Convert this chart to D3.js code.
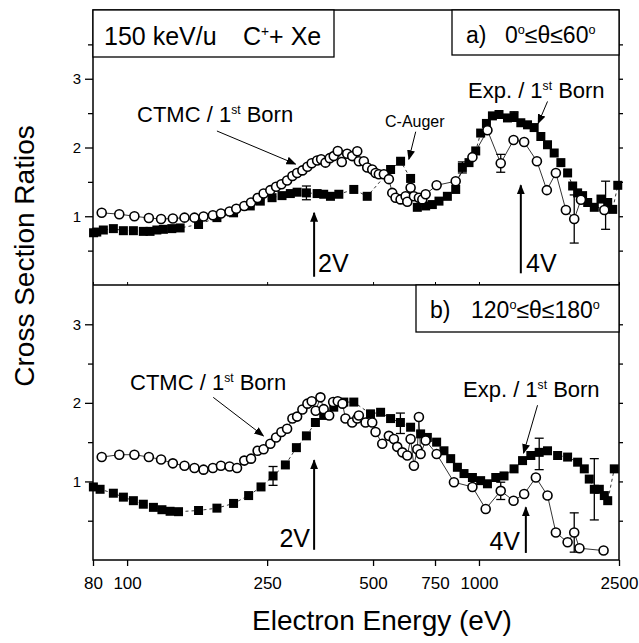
<!DOCTYPE html>
<html>
<head>
<meta charset="utf-8">
<script src="https://cdn.jsdelivr.net/npm/d3@7"></script>
<style>
  body { margin: 0; background: #fff; }
  text { font-family: "Liberation Sans", Arial, Helvetica, sans-serif; fill: #000; }
</style>
</head>
<body>
<div id="chart"></div>
<script>
const width = 639
const height = 643
const plot = { left: 93, right: 619, top: 10, mid: 285, bottom: 560 }

// x ticks (eV) and y ticks
const xTicks = [80, 100, 250, 500, 750, 1000, 2500]
const yMajor = [1, 2, 3]
const yMinorA = [0.5, 1.5, 2.5, 3.5]
const yMinorB = [0.5, 1.5, 2.5]

// panel a) 0 <= theta <= 60 : [energy eV, ratio]
const aExp = [[80.3,0.76],[82,0.77],[85.6,0.80],[91.4,0.82],[97.6,0.79],[104.2,0.79],[111.2,0.78],[116.2,0.78],
  [121.5,0.80],[126.8,0.81],[134,0.82],[141.5,0.83],[159.6,0.88],[180,0.98],[200.7,1.05],[223.9,1.15],
  [239.1,1.22],[258.2,1.27],[275.6,1.30],[291,1.33],[304.2,1.35],[323.3,1.34],[346.8,1.33],[362,1.32],
  [378.4,1.29],[399.7,1.32],[440.8,1.39],[481.3,1.29],[560.8,1.68],[598.7,1.80],[639.3,1.55],[668,1.13],
  [705.4,1.15],[737,1.17],[769.7,1.22],[813.2,1.29],[858.7,1.39],[897,1.71],[936.8,1.78],[979,1.95],
  [1011,2.21],[1050,2.35],[1092,2.46],[1140,2.48],[1205,2.43],[1258,2.45],[1315,2.36],[1374,2.33],[1435,2.29],
  [1499,2.16],[1566,2.04],[1636,1.92],[1709,1.78],[1786,1.63],[1846,1.44],[1907,1.34],[1970,1.30],[2037,1.20],
  [2127,1.13],[2222,1.25],[2322,1.20],[2399,1.10],[2480,1.45]]
const aCtmc = [[84.7,1.05],[95,1.03],[104.9,1.0],[115.3,0.975],[124.9,0.96],[134.9,0.967],[145.6,0.98],[155.4,0.98],
  [164.9,0.996],[175.3,1.014],[184.8,1.04],[195.5,1.07],[204.3,1.11],[215.3,1.15],[225,1.2],[234.9,1.265],
  [244.3,1.33],[255.3,1.38],[265.1,1.43],[274.5,1.465],[284.9,1.52],[295,1.585],[304.2,1.63],[314.9,1.667],
  [325.4,1.72],[334.7,1.77],[346.8,1.81],[356,1.83],[366.2,1.78],[376.6,1.845],[386.6,1.875],[396.9,1.95],
  [407.5,1.79],[422.1,1.91],[436.2,1.875],[450.9,1.945],[455.6,1.80],[470.7,1.80],[481.3,1.71],[497.3,1.68],
  [508.3,1.63],[519.4,1.61],[536.7,1.61],[554.5,1.54],[567,1.34],[579.4,1.27],[598.7,1.245],[618.7,1.29],
  [625.6,1.21],[639.3,1.415],[653.3,1.29],[675,1.27],[690.2,1.245],[705.4,1.32],[758,1.45],[858.7,1.51],
  [958,1.86],[1057,2.25],[1153,1.77],[1254,2.11],[1344,2.08],[1461,1.80],[1559,1.38],[1654,1.63],
  [1766,1.09],[1865,0.96],[1949,1.24],[2271,1.09]]
// error bars: [energy, ratio, half width]
const aExpErr = [[323.3,1.34,0.10],[897,1.71,0.08],[1258,2.45,0.07],[2290,1.16,0.35]]
const aCtmcErr = [[1153,1.77,0.13],[1865,0.96,0.35]]

// panel b) 120 <= theta <= 180
const bExp = [[80.2,0.93],[83.8,0.90],[91.4,0.85],[97.6,0.80],[104.2,0.755],[111.2,0.71],[118.8,0.67],[125.6,0.64],
  [132.5,0.62],[140,0.615],[159.6,0.63],[180,0.66],[200.7,0.72],[221.5,0.82],[240.2,0.93],[259.9,1.07],
  [281.7,1.21],[302.8,1.43],[323.3,1.58],[342.9,1.75],[362,1.84],[386.6,1.945],[412.9,2.01],[440.8,2.01],
  [491.8,1.86],[525.3,1.88],[560.8,1.80],[598,1.75],[639.3,1.69],[682.6,1.605],[713.3,1.56],[758,1.50],
  [795.2,1.39],[831,1.29],[868.3,1.18],[906.7,1.10],[958,1.05],[1011,1.01],[1057,0.97],[1116,1.05],
  [1178,1.07],[1258,1.16],[1330,1.265],[1404,1.33],[1483,1.37],[1566,1.39],[1673,1.33],[1786,1.31],
  [1907,1.245],[1992,1.16],[2058,1.03],[2127,0.90],[2198,0.90],[2271,0.82],[2322,0.755],[2424,1.16]]
const bCtmc = [[84.7,1.31],[95,1.34],[104.9,1.34],[115.3,1.31],[124.9,1.28],[134.9,1.23],[145.6,1.20],[155.4,1.17],
  [164.9,1.15],[175.3,1.17],[184.8,1.20],[195.5,1.19],[205.3,1.17],[215.3,1.265],[225,1.29],[234.9,1.39],
  [244.3,1.41],[255.3,1.48],[265.1,1.56],[274.5,1.63],[284.9,1.67],[295,1.80],[304.2,1.825],[314.9,1.915],
  [325.4,1.99],[334.7,2.02],[343.6,1.90],[354.4,2.07],[362,1.92],[375.2,1.84],[385.1,2.01],[396.9,2.02],
  [409.4,1.99],[417.4,1.80],[436.2,1.75],[450.9,1.80],[455.6,1.84],[476,1.75],[497.3,1.75],[508.3,1.63],
  [531,1.48],[554.5,1.58],[573,1.54],[585.7,1.44],[605.5,1.37],[625.6,1.33],[639.3,1.54],[653.3,1.20],
  [668,1.41],[675,1.82],[682.6,1.35],[705.4,1.52],[758,1.35],[849,0.99],[958,0.93],[1045,0.65],
  [1153,0.88],[1254,0.755],[1344,0.84],[1451,1.05],[1566,0.82],[1654,0.35],[1786,0.225],[1865,0.35],
  [1930,0.15],[2260,0.12]]
const bExpErr = [[259.9,1.07,0.12],[598,1.74,0.13],[1483,1.35,0.20],[2127,0.90,0.39]]
const bCtmcErr = [[1153,0.88,0.11],[1865,0.35,0.25]]

const svg = d3.select('#chart').append('svg').attr('width', width).attr('height', height)

// arrow head
svg.append('defs').append('marker')
  .attr('id', 'head').attr('viewBox', '0 0 10 8').attr('refX', 9).attr('refY', 4)
  .attr('markerUnits', 'userSpaceOnUse').attr('markerWidth', 10).attr('markerHeight', 8)
  .attr('orient', 'auto')
  .append('path').attr('d', 'M0,0 L10,4 L0,8 z').attr('fill', '#000')

const x = d3.scaleLog().domain([80, 2500]).range([plot.left, plot.right])
const yA = d3.scaleLinear().domain([0, 4]).range([plot.mid, plot.top])
const yB = d3.scaleLinear().domain([0, 3.5]).range([plot.bottom, plot.mid])

function drawAxes(y, minor) {
  const g = svg.append('g')
  const l1 = g.append('g').attr('transform', `translate(${plot.left},0)`)
    .call(d3.axisLeft(y).tickValues(minor).tickSize(5).tickFormat(''))
  const l2 = g.append('g').attr('transform', `translate(${plot.left},0)`)
    .call(d3.axisLeft(y).tickValues(yMajor).tickSize(8).tickPadding(4).tickFormat(d3.format('d')))
  const r1 = g.append('g').attr('transform', `translate(${plot.right},0)`)
    .call(d3.axisRight(y).tickValues(minor.concat(yMajor)).tickSize(4).tickFormat(''))
  ;[l1, l2, r1].forEach(a => { a.select('.domain').remove(); a.selectAll('line').attr('stroke-width', 1.3) })
  l2.selectAll('text').attr('font-size', 15).attr('fill', '#000')
  return g
}

drawAxes(yA, yMinorA)
drawAxes(yB, yMinorB)

const xAxisGroup = svg.append('g').attr('transform', `translate(0,${plot.bottom})`)
  .call(d3.axisBottom(x).tickValues(xTicks).tickSize(6).tickPadding(11).tickFormat(d3.format('d')))
xAxisGroup.select('.domain').remove()
xAxisGroup.selectAll('line').attr('stroke-width', 1.3)
xAxisGroup.selectAll('text').attr('font-size', 17).attr('fill', '#000')

// small ticks on the panel boundary
const midAxis = svg.append('g').attr('transform', `translate(0,${plot.mid})`)
  .call(d3.axisTop(x).tickValues(xTicks).tickSize(3).tickFormat(''))
midAxis.select('.domain').remove()

function drawPanel(y, exp, ctmc, expErr, ctmcErr) {
  const g = svg.append('g')
  const line = d3.line().x(d => x(d[0])).y(d => y(d[1]))
  g.append('path').datum(exp).attr('d', line).attr('fill', 'none')
    .attr('stroke', '#000').attr('stroke-width', 0.8).attr('stroke-dasharray', '3,3')
  g.append('path').datum(ctmc).attr('d', line).attr('fill', 'none')
    .attr('stroke', '#000').attr('stroke-width', 0.8)

  const errs = expErr.concat(ctmcErr)
  const eb = g.selectAll('g.err').data(errs).enter().append('g').attr('stroke', '#000').attr('stroke-width', 1.3)
  eb.append('line').attr('x1', d => x(d[0])).attr('x2', d => x(d[0]))
    .attr('y1', d => y(d[1] - d[2])).attr('y2', d => y(d[1] + d[2]))
  eb.append('line').attr('x1', d => x(d[0]) - 4.5).attr('x2', d => x(d[0]) + 4.5)
    .attr('y1', d => y(d[1] - d[2])).attr('y2', d => y(d[1] - d[2]))
  eb.append('line').attr('x1', d => x(d[0]) - 4.5).attr('x2', d => x(d[0]) + 4.5)
    .attr('y1', d => y(d[1] + d[2])).attr('y2', d => y(d[1] + d[2]))

  g.selectAll('rect.exp').data(exp).enter().append('rect').attr('class', 'exp')
    .attr('x', d => x(d[0]) - 4.5).attr('y', d => y(d[1]) - 4.5)
    .attr('width', 9).attr('height', 9).attr('fill', '#000')
  g.selectAll('circle.ctmc').data(ctmc).enter().append('circle').attr('class', 'ctmc')
    .attr('cx', d => x(d[0])).attr('cy', d => y(d[1])).attr('r', 4.5)
    .attr('fill', '#fff').attr('stroke', '#000').attr('stroke-width', 1.6)
  return g
}

drawPanel(yA, aExp, aCtmc, aExpErr, aCtmcErr)
drawPanel(yB, bExp, bCtmc, bExpErr, bCtmcErr)

// frames
svg.append('rect').attr('x', plot.left).attr('y', plot.top)
  .attr('width', plot.right - plot.left).attr('height', plot.bottom - plot.top)
  .attr('fill', 'none').attr('stroke', '#000').attr('stroke-width', 1.5)
svg.append('line').attr('x1', plot.left).attr('x2', plot.right).attr('y1', plot.mid).attr('y2', plot.mid)
  .attr('stroke', '#000').attr('stroke-width', 1.5)

// label boxes
const boxes = [[plot.left, plot.top, 334, 57], [452, plot.top, plot.right, 55], [416, plot.mid, plot.right, 332]]
boxes.forEach(b => svg.append('rect').attr('x', b[0]).attr('y', b[1]).attr('width', b[2] - b[0]).attr('height', b[3] - b[1])
  .attr('fill', '#fff').attr('stroke', '#000').attr('stroke-width', 1.3))

function sup(t, x0, y0, size, parts) {
  const el = svg.append('text').attr('x', x0).attr('y', y0).attr('font-size', size)
  parts.forEach(p => {
    if (p[1]) el.append('tspan').attr('dy', -size * 0.38).attr('font-size', size * 0.55).text(p[0])
    else el.append('tspan').attr('dy', p[2] ? size * 0.38 : 0).text(p[0])
  })
  return el
}

svg.append('text').attr('x', 104).attr('y', 45).attr('font-size', 25).text('150 keV/u')
sup(svg, 243, 45, 25, [['C'], ['+', true], ['+ Xe', false, true]])
svg.append('text').attr('x', 466).attr('y', 43).attr('font-size', 23).text('a)')
sup(svg, 505, 43, 23, [['0'], ['o', true], ['\u2264\u03b8\u226460', false, true], ['o', true]])
svg.append('text').attr('x', 430).attr('y', 318).attr('font-size', 23).text('b)')
sup(svg, 471, 318, 23, [['120'], ['o', true], ['\u2264\u03b8\u2264180', false, true], ['o', true]])

// annotations
const bornText = (x0, y0, lead) => sup(svg, x0, y0, 22, [[lead + ' / 1'], ['st', true], [' Born', false, true]])
bornText(137, 122, 'CTMC')
bornText(468, 98, 'Exp.')
bornText(130, 390, 'CTMC')
bornText(463, 397, 'Exp.')
svg.append('text').attr('x', 385).attr('y', 127).attr('font-size', 16).text('C-Auger')
svg.append('text').attr('x', 318).attr('y', 272).attr('font-size', 25).text('2V')
svg.append('text').attr('x', 526).attr('y', 272).attr('font-size', 25).text('4V')
svg.append('text').attr('x', 310).attr('y', 547).attr('font-size', 25).attr('text-anchor', 'end').text('2V')
svg.append('text').attr('x', 520).attr('y', 550).attr('font-size', 25).attr('text-anchor', 'end').text('4V')

// arrows in data coords: [E0, r0, E1, r1, width]
const arrowsA = [[180, 2.24, 301, 1.76, 1], [661, 2.23, 632, 1.83, 1], [1566, 2.67, 1473, 2.35, 1],
  [340, 0.12, 340, 1.05, 2], [1315, 0.17, 1315, 1.45, 2]]
const arrowsB = [[175.7, 2.07, 244, 1.58, 1], [1467, 1.97, 1339, 1.36, 1],
  [340, 0.13, 340, 1.27, 2], [1359, 0.09, 1359, 0.67, 2]]
function drawArrows(list, y) {
  svg.append('g').selectAll('line').data(list).enter().append('line')
    .attr('x1', d => x(d[0])).attr('y1', d => y(d[1]))
    .attr('x2', d => x(d[2])).attr('y2', d => y(d[3]))
    .attr('stroke', '#000').attr('stroke-width', d => d[4]).attr('marker-end', 'url(#head)')
}
drawArrows(arrowsA, yA)
drawArrows(arrowsB, yB)

// axis titles
svg.append('text').attr('transform', 'translate(34,256) rotate(-90)').attr('text-anchor', 'middle')
  .attr('font-size', 28).text('Cross Section Ratios')
svg.append('text').attr('x', 382).attr('y', 630).attr('text-anchor', 'middle')
  .attr('font-size', 28).text('Electron Energy (eV)')
</script>
</body>
</html>
